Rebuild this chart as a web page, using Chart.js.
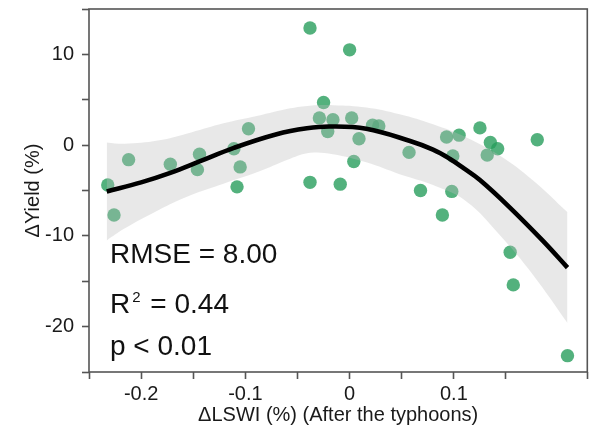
<!DOCTYPE html>
<html>
<head>
<meta charset="utf-8">
<script src="https://cdn.jsdelivr.net/npm/chart.js@4.4.1/dist/chart.umd.min.js"></script>
<style>
html,body{margin:0;padding:0;background:#fff}
</style>
</head>
<body>
<canvas id="c" width="594" height="435"></canvas>
<script>
// observed points: change in LSWI vs change in yield
const lswi=[-0.232,-0.226,-0.212,-0.172,-0.144,-0.146,-0.111,-0.105,-0.108,-0.097,
  -0.038,-0.038,-0.025,-0.029,-0.021,-0.016,-0.009,0.000,0.002,0.004,
  0.009,0.022,0.028,0.057,0.068,0.089,0.093,0.098,0.099,0.105,
  0.125,0.135,0.132,0.142,0.180,0.154,0.157,0.209];
const yieldChg=[-4.4,-7.7,-1.6,-2.1,-1.0,-2.7,-0.4,-2.4,-4.6,1.8,
  12.9,-4.1,4.7,3.0,1.5,2.8,-4.3,10.5,3.0,-1.8,
  0.7,2.2,2.1,-0.8,-5.0,-7.7,0.9,-5.1,-1.2,1.1,
  1.9,0.3,-1.1,-0.4,0.6,-11.8,-15.4,-23.2];

// fitted curve
const fitX=[-0.233,-0.2,-0.172,-0.144,-0.111,-0.07,-0.041,-0.019,0.016,0.058,0.08,0.096,0.11,0.125,0.153,0.185,0.209];
const fitY=[-5.1,-4.1,-3.05,-1.8,-0.3,1.2,1.85,2.05,1.8,0.45,-0.5,-1.5,-2.6,-3.85,-6.8,-10.5,-13.5];

// confidence band
const bandX=[-0.233,-0.216,-0.184,-0.152,-0.121,-0.089,-0.057,-0.038,-0.016,0.016,0.048,0.08,0.112,0.144,0.176,0.209];
const bandHi=[0.3,0.15,0.5,1.4,2.4,3.2,4.05,4.35,4.4,4.15,3.4,2.3,0.85,-1.15,-3.9,-7.4];
const bandLo=[-10.5,-9.2,-7.2,-5.5,-4.25,-3.0,-1.5,-0.85,-1.0,-1.9,-3.2,-4.4,-6.2,-9.9,-14.3,-19.6];

const rmseText="RMSE = 8.00";
const r2Text=" = 0.44";
const pText="p < 0.01";
const xTitle="\u0394LSWI (%) (After the typhoons)";
const yTitle="\u0394Yield (%)";

const FONT="'Liberation Sans', Arial, sans-serif";
const AXIS="#555";

const pts=lswi.map((x,i)=>({x,y:yieldChg[i]}));
const fit=fitX.map((x,i)=>({x,y:fitY[i]}));
const hi=bandX.map((x,i)=>({x,y:bandHi[i]}));
const lo=bandX.map((x,i)=>({x,y:bandLo[i]}));

const frameAndText={
  id:"frameAndText",
  afterDatasetsDraw(chart){
    const {ctx,chartArea:a}=chart;
    ctx.save();
    ctx.strokeStyle=AXIS;
    ctx.lineWidth=1.6;
    ctx.strokeRect(a.left,a.top,a.right-a.left,a.bottom-a.top);

    ctx.fillStyle="#111";
    ctx.textBaseline="alphabetic";
    ctx.font="28px "+FONT;
    const x0=a.left+21;
    ctx.fillText(rmseText,x0,263);
    ctx.fillText("R",x0,313);
    const rw=ctx.measureText("R").width;
    ctx.font="15px "+FONT;
    ctx.fillText("2",x0+rw+2,302);
    const sw=ctx.measureText("2").width;
    ctx.font="28px "+FONT;
    ctx.fillText(r2Text,x0+rw+sw+4,313);
    ctx.fillText(pText,x0,355);
    ctx.restore();
  }
};

new Chart(document.getElementById("c"),{
  type:"scatter",
  data:{datasets:[
    {data:pts,order:3,pointRadius:6.7,pointHoverRadius:6.7,borderWidth:0,
     backgroundColor:"rgba(40,158,92,0.8)"},
    {type:"line",data:hi,order:2,fill:"+1",borderWidth:0,pointRadius:0,
     backgroundColor:"rgba(190,190,190,0.35)",tension:0.4},
    {type:"line",data:lo,order:2,fill:false,borderWidth:0,pointRadius:0,tension:0.4},
    {type:"line",data:fit,order:1,fill:false,borderColor:"#000",borderWidth:4.6,
     pointRadius:0,tension:0.4,borderCapStyle:"butt"}
  ]},
  options:{
    responsive:false,
    devicePixelRatio:1,
    animation:false,
    layout:{padding:{top:9,right:6,left:0,bottom:0}},
    plugins:{legend:{display:false},tooltip:{enabled:false}},
    scales:{
      x:{
        type:"linear",min:-0.25,max:0.228,
        afterFit(s){s.height=63;s.paddingLeft=0;s.paddingRight=0;},
        border:{display:false},
        grid:{drawOnChartArea:false,drawTicks:true,tickLength:7,tickWidth:1.6,tickColor:AXIS,color:AXIS},
        ticks:{stepSize:0.05,padding:3,color:"#1a1a1a",maxRotation:0,autoSkip:false,
          font:{family:FONT,size:20},
          callback:v=>Math.abs(v*10-Math.round(v*10))<1e-6?String(Math.round(v*10)/10):""},
        title:{display:true,text:xTitle,color:"#1a1a1a",font:{family:FONT,size:20},padding:{top:0,bottom:8}}
      },
      y:{
        min:-25,max:15,
        afterFit(s){s.width=89;s.paddingTop=0;s.paddingBottom=0;},
        border:{display:false},
        grid:{drawOnChartArea:false,drawTicks:true,tickLength:7,tickWidth:1.6,tickColor:AXIS,color:AXIS},
        ticks:{stepSize:5,padding:8,color:"#1a1a1a",autoSkip:false,
          font:{family:FONT,size:20},
          callback:v=>v%10===0?String(v):""},
        title:{display:true,text:yTitle,color:"#1a1a1a",font:{family:FONT,size:20},padding:{top:21,bottom:0}}
      }
    }
  },
  plugins:[frameAndText]
});
</script>
</body>
</html>
